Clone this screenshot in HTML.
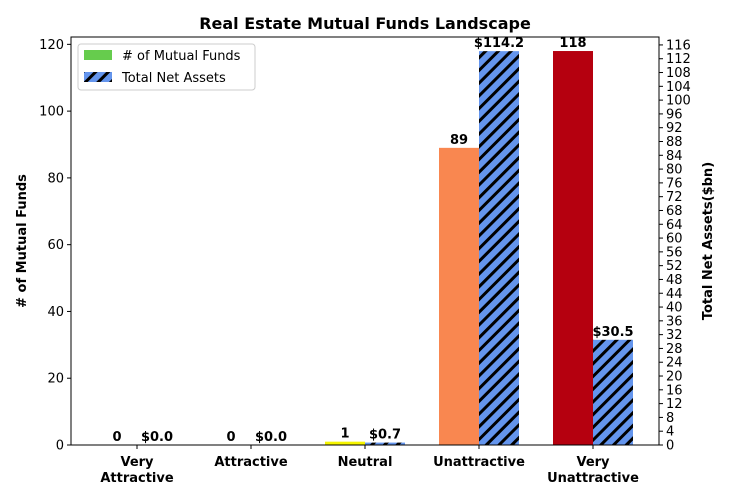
<!DOCTYPE html>
<html><head><meta charset="utf-8"><style>
body{margin:0;background:#fff;font-family:"DejaVu Sans","Liberation Sans",sans-serif;}
</style></head><body>
<svg id="c" width="730" height="500" xmlns="http://www.w3.org/2000/svg" font-family="DejaVu Sans, Liberation Sans, sans-serif">
<defs>
<pattern id="hatch" patternUnits="userSpaceOnUse" width="9" height="9" patternTransform="rotate(45)">
<rect width="9" height="9" fill="#6495ed"/>
<rect x="0" y="0" width="3" height="9" fill="#000"/>
</pattern>
</defs>
<text x="365" y="29" text-anchor="middle" font-size="16" font-weight="bold">Real Estate Mutual Funds Landscape</text>
<g id="g"></g>
</svg>
<script>
const categories = ["Very\nAttractive","Attractive","Neutral","Unattractive","Very\nUnattractive"];
const fundCounts = [0,0,1,89,118];
const netAssets = [0.0,0.0,0.7,114.2,30.5];
const countLabels = ["0","0","1","89","118"];
const assetLabels = ["$0.0","$0.0","$0.7","$114.2","$30.5"];
const leftTicks = [0,20,40,60,80,100,120];
const rightTicks = [];
for (let t=0;t<=116;t+=4) rightTicks.push(t);
const barColors = ["#66cc4d","#66cc4d","#f5f500","#f98750","#b5000f"];

const X0=71,X1=659,Y0=445,Y1=37;
const leftMax=122.2, rightMax=118.3;
const yL=v=>Y0-(v/leftMax)*(Y0-Y1);
const yR=v=>Y0-(v/rightMax)*(Y0-Y1);
const xC=i=>137+i*114;
const BW=40;
const g=document.getElementById('g');
const NS="http://www.w3.org/2000/svg";
function mk(tag,attrs,parent){const e=document.createElementNS(NS,tag);for(const k in attrs)e.setAttribute(k,attrs[k]);(parent||g).appendChild(e);return e;}

categories.forEach((c,i)=>{
  const cx=xC(i);
  const h1=Y0-yL(fundCounts[i]);
  const b1=mk('rect',{x:cx-BW,y:yL(fundCounts[i]),width:BW,height:h1,fill:barColors[i]});
  
  
  const h2=Y0-yR(netAssets[i]);
  const b2=mk('rect',{x:cx,y:yR(netAssets[i]),width:BW,height:h2,fill:'url(#hatch)'});
  
  
  const t1=mk('text',{x:cx-BW/2,y:yL(fundCounts[i])-4,'text-anchor':'middle','font-size':13,'font-weight':'bold'});
  t1.textContent=countLabels[i];
  
  
  const t2=mk('text',{x:cx+BW/2,y:yR(netAssets[i])-4,'text-anchor':'middle','font-size':13,'font-weight':'bold'});
  t2.textContent=assetLabels[i];
  
  
  mk('line',{x1:cx,x2:cx,y1:Y0,y2:Y0+4,stroke:'#000'});
  c.split('\n').forEach((ln,j)=>{
    const t=mk('text',{x:cx,y:466+j*16,'text-anchor':'middle','font-size':13,'font-weight':'bold'});
    t.textContent=ln;
    
    
  });
});
const fr=mk('rect',{x:X0,y:Y1,width:X1-X0,height:Y0-Y1,fill:'none',stroke:'#000','stroke-width':1});


leftTicks.forEach(v=>{
  const y=yL(v);
  mk('line',{x1:X0-4,x2:X0,y1:y,y2:y,stroke:'#000'});
  const t=mk('text',{x:X0-7,y:y+4.5,'text-anchor':'end','font-size':13});
  t.textContent=v;
  
  
});
rightTicks.forEach(v=>{
  const y=yR(v);
  mk('line',{x1:X1,x2:X1+4,y1:y,y2:y,stroke:'#000'});
  const t=mk('text',{x:X1+7,y:y+4.5,'text-anchor':'start','font-size':13});
  t.textContent=v;
  
  
});
const yl=mk('text',{x:0,y:0,transform:'translate(26,241) rotate(-90)','text-anchor':'middle','font-size':13,'font-weight':'bold'});
yl.textContent='# of Mutual Funds';


const yr=mk('text',{x:0,y:0,transform:'translate(712,241) rotate(-90)','text-anchor':'middle','font-size':13,'font-weight':'bold'});
yr.textContent='Total Net Assets($bn)';


// legend
const lg=mk('g',{});


mk('rect',{x:78,y:44,width:177,height:46,rx:3,fill:'#fff',stroke:'#ccc'},lg);
const s1=mk('rect',{x:84,y:50,width:28,height:10,fill:'#66cc4d'},lg);


const l1=mk('text',{x:122,y:60,'font-size':13},lg);l1.textContent='# of Mutual Funds';


const s2=mk('rect',{x:84,y:72,width:28,height:10,fill:'url(#hatch)'},lg);


const l2=mk('text',{x:122,y:82,'font-size':13},lg);l2.textContent='Total Net Assets';


</script>
</body></html>
